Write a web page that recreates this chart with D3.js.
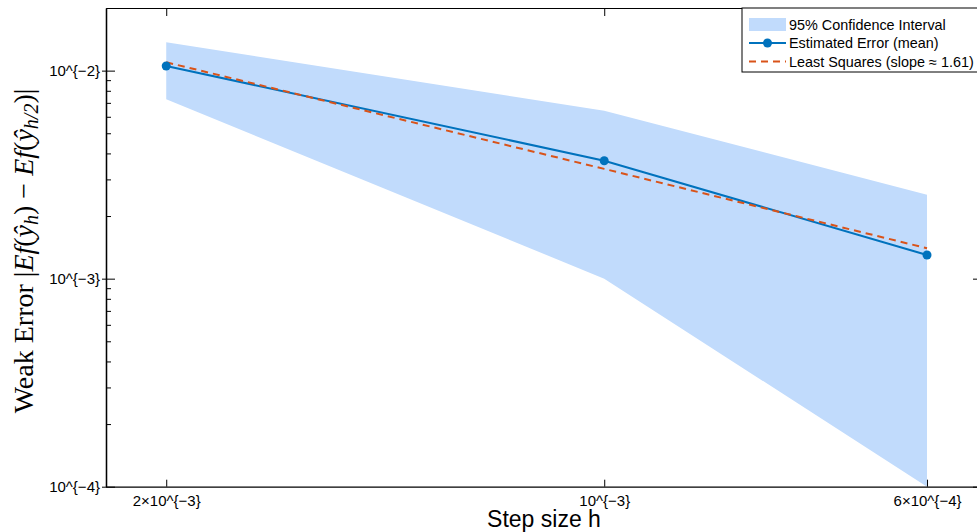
<!DOCTYPE html>
<html><head><meta charset="utf-8">
<script src="https://cdn.jsdelivr.net/npm/d3@7"></script>
<style>body{margin:0;background:#fff}svg{display:block}</style>
</head><body><svg id="c" width="977" height="532"></svg>
<script>
const stepSizes = [2e-3, 1e-3, 6e-4];
const meanError = [0.01053, 3.69e-3, 1.30e-3];
const ciUpper = [0.01369, 6.42e-3, 2.53e-3];
const ciLower = [7.29e-3, 1.0e-3, 1.0e-4];
const lsqFit = [0.01097, 3.37e-3, 1.40e-3];
const xTickValues = [2e-3, 1e-3, 6e-4];
const xTickLabels = ["2×10^{−3}", "10^{−3}", "6×10^{−4}"];
const yTickValues = [1e-4, 1e-3, 1e-2];
const yTickLabels = ["10^{−4}", "10^{−3}", "10^{−2}"];
const yMinorTicks = [2,3,4,5,6,7,8,9].flatMap(m => [m*1e-4, m*1e-3]);
const legendLabels = ["95% Confidence Interval", "Estimated Error (mean)", "Least Squares (slope ≈ 1.61)"];
const xDomain = [2.2e-3, 5.5e-4];
const yDomain = [1e-4, 2e-2];

const svg = d3.select("#c");
const L = 106, R = 982, T = 8, B = 486.7;
const x = d3.scaleLog().domain(xDomain).range([L, R]);
const y = d3.scaleLog().domain(yDomain).range([B, T]);
const sans = "'Liberation Sans', Arial, Helvetica, sans-serif";

const data = stepSizes.map((h, i) => ({h, m: meanError[i], lo: ciLower[i], hi: ciUpper[i], ls: lsqFit[i]}));

svg.append("clipPath").attr("id", "clip").append("rect")
  .attr("x", L).attr("y", T).attr("width", R - L).attr("height", B - T);
const plot = svg.append("g").attr("clip-path", "url(#clip)");

const blue = "#0072bd", orange = "#d95319", fill = "#c1dbfc";

plot.append("path").datum(data)
  .attr("fill", fill)
  .attr("d", d3.area().x(d => x(d.h)).y0(d => y(d.lo)).y1(d => y(d.hi)));

plot.append("path").datum(data)
  .attr("fill", "none").attr("stroke", blue).attr("stroke-width", 2)
  .attr("d", d3.line().x(d => x(d.h)).y(d => y(d.m)));

plot.append("path").datum(data)
  .attr("fill", "none").attr("stroke", orange).attr("stroke-width", 2)
  .attr("stroke-dasharray", "7,5")
  .attr("d", d3.line().x(d => x(d.h)).y(d => y(d.ls)));

plot.selectAll("circle.pt").data(data).enter().append("circle")
  .attr("class", "pt").attr("cx", d => x(d.h)).attr("cy", d => y(d.m))
  .attr("r", 4.5).attr("fill", blue);

function styleAxis(g) {
  g.selectAll("path.domain").attr("stroke", "#000").attr("stroke-width", 1.2);
  g.selectAll(".tick line").attr("stroke", "#000").attr("stroke-width", 1);
  g.selectAll("text").style("font-family", sans).style("font-size", "15px").attr("fill", "#000");
}

// Left axis major (inward) with labels
svg.append("g").attr("transform", `translate(${L},0)`)
  .call(d3.axisLeft(y).tickValues(yTickValues).tickSize(-9).tickSizeOuter(0)
    .tickPadding(6).tickFormat((d, i) => yTickLabels[i]))
  .call(styleAxis);
// outward stubs
svg.append("g").attr("transform", `translate(${L},0)`)
  .call(d3.axisLeft(y).tickValues(yTickValues).tickSize(4).tickSizeOuter(0).tickFormat(""))
  .call(styleAxis);
// minor ticks left
svg.append("g").attr("transform", `translate(${L},0)`)
  .call(d3.axisLeft(y).tickValues(yMinorTicks).tickSize(-5).tickSizeOuter(0).tickFormat(""))
  .call(styleAxis);
// right axis
svg.append("g").attr("transform", `translate(${R},0)`)
  .call(d3.axisRight(y).tickValues(yTickValues).tickSize(-9).tickSizeOuter(0).tickFormat(""))
  .call(styleAxis);
svg.append("g").attr("transform", `translate(${R},0)`)
  .call(d3.axisRight(y).tickValues(yMinorTicks).tickSize(-5).tickSizeOuter(0).tickFormat(""))
  .call(styleAxis);
// bottom axis
svg.append("g").attr("transform", `translate(0,${B})`)
  .call(d3.axisBottom(x).tickValues(xTickValues).tickSize(-7).tickSizeOuter(0)
    .tickPadding(7).tickFormat((d, i) => xTickLabels[i]))
  .call(styleAxis)
  .call(g => g.selectAll("text").attr("dy", "0.82em"));
// top axis
svg.append("g").attr("transform", `translate(0,${T})`)
  .call(d3.axisTop(x).tickValues(xTickValues).tickSize(-8).tickSizeOuter(0).tickFormat(""))
  .call(styleAxis);

// x label
svg.append("text").attr("x", (L + R) / 2).attr("y", 527).attr("text-anchor", "middle")
  .style("font-family", sans).style("font-size", "23px").text("Step size h");

// y label
const yl = svg.append("text").attr("transform", "translate(33,251) rotate(-90)")
  .attr("text-anchor", "middle")
  .style("font-family", "'Liberation Serif','Times New Roman',serif").style("font-size", "28px");
const parts = [
  ["Weak Error |", false, 0], ["E", true, 0], ["f", true, 0], ["(", false, 0], ["ŷ", true, 0],
  ["h", true, 1], [") \u2212 ", false, -1], ["E", true, 0], ["f", true, 0], ["(", false, 0], ["ŷ", true, 0],
  ["h/2", true, 1], [")|", false, -1]
];
parts.forEach(([t, it, sub]) => {
  const ts = yl.append("tspan").text(t);
  if (it) ts.style("font-style", "italic");
  if (sub === 1) ts.attr("dy", 5).style("font-size", "20px");
  if (sub === -1) ts.attr("dy", -5);
});

// legend
const lg = svg.append("g");
lg.append("rect").attr("x", 742).attr("y", 8).attr("width", 260).attr("height", 64)
  .attr("fill", "#fff").attr("stroke", "#000").attr("stroke-width", 1);
const rows = [24.5, 43, 61.5];
lg.append("rect").attr("x", 749).attr("y", rows[0] - 6.5).attr("width", 37).attr("height", 13).attr("fill", fill);
lg.append("line").attr("x1", 749).attr("x2", 786).attr("y1", rows[1]).attr("y2", rows[1])
  .attr("stroke", blue).attr("stroke-width", 2);
lg.append("circle").attr("cx", 767.5).attr("cy", rows[1]).attr("r", 4.5).attr("fill", blue);
lg.append("line").attr("x1", 749).attr("x2", 786).attr("y1", rows[2]).attr("y2", rows[2])
  .attr("stroke", orange).attr("stroke-width", 2).attr("stroke-dasharray", "7,5");
legendLabels.forEach((t, i) => {
  lg.append("text").attr("x", 789).attr("y", rows[i] + 5)
    .style("font-family", sans).style("font-size", "14.4px").text(t);
});
</script></body></html>
